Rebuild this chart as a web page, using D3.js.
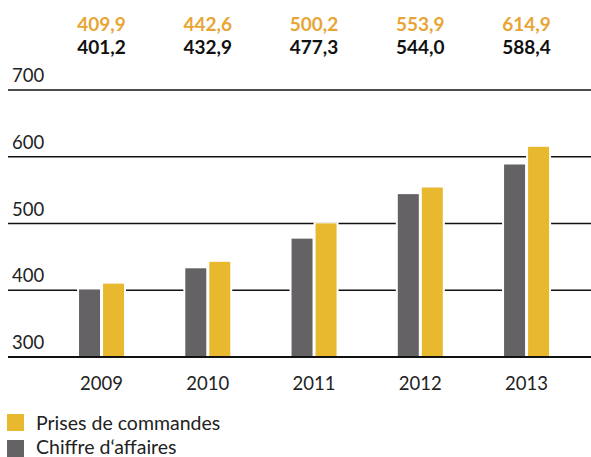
<!DOCTYPE html>
<html><head><meta charset="utf-8">
<script src="https://cdn.jsdelivr.net/npm/d3@7"></script>
<style>body{margin:0;background:#fff;overflow:hidden}svg{display:block}</style>
</head><body>
<script>
const years = ["2009","2010","2011","2012","2013"];
const prises = [409.9, 442.6, 500.2, 553.9, 614.9];
const chiffre = [401.2, 432.9, 477.3, 544.0, 588.4];
const priseLabels = ["409,9","442,6","500,2","553,9","614,9"];
const chiffreLabels = ["401,2","432,9","477,3","544,0","588,4"];
const yTicks = [300, 400, 500, 600, 700];
const legendItems = ["Prises de commandes", "Chiffre d‘affaires"];

const W = 591, H = 457;
const YEL = "#E8B92F", GRY = "#646265", ORG = "#E8A535";
const font = "Lato, 'Open Sans', sans-serif";
const svg = d3.select("body").append("svg").attr("width", W).attr("height", H);

const y = d3.scaleLinear().domain([300, 700]).range([357, 90]);
const x = d3.scaleBand().domain(years).range([48.4, 579.7]);
const barW = 21, gap = 3;

// gridlines
svg.append("g").selectAll("line").data(yTicks.slice(1)).join("line")
  .attr("x1", 8).attr("x2", W).attr("y1", d => y(d)).attr("y2", d => y(d))
  .attr("stroke", "#111").attr("stroke-width", 1.4);

// y labels
svg.append("g").selectAll("text").data(yTicks).join("text")
  .attr("x", 12).attr("y", d => y(d) - 8)
  .attr("font-family", font).attr("font-size", 18.5).attr("fill", "#222")
  .text(d => d);

const groups = svg.append("g").selectAll("g").data(years).join("g")
  .attr("transform", d => `translate(${x(d) + x.bandwidth()/2},0)`);

// white backings (break gridlines)
groups.append("rect")
  .attr("x", -barW - gap/2 - 2).attr("width", barW + 4)
  .attr("y", (d,i) => y(chiffre[i]) - 1).attr("height", (d,i) => y(300) - y(chiffre[i]) + 1)
  .attr("fill", "#fff");
groups.append("rect")
  .attr("x", gap/2 - 2).attr("width", barW + 4)
  .attr("y", (d,i) => y(prises[i]) - 1).attr("height", (d,i) => y(300) - y(prises[i]) + 1)
  .attr("fill", "#fff");

groups.append("rect")
  .attr("x", -barW - gap/2).attr("width", barW)
  .attr("y", (d,i) => y(chiffre[i])).attr("height", (d,i) => y(300) - y(chiffre[i]))
  .attr("fill", GRY);
groups.append("rect")
  .attr("x", gap/2).attr("width", barW)
  .attr("y", (d,i) => y(prises[i])).attr("height", (d,i) => y(300) - y(prises[i]))
  .attr("fill", YEL);

// top value labels
groups.append("text").attr("text-anchor", "middle").attr("y", 31)
  .attr("font-family", font).attr("font-weight", "bold").attr("font-size", 19)
  .attr("fill", ORG).text((d,i) => priseLabels[i]);
groups.append("text").attr("text-anchor", "middle").attr("y", 54)
  .attr("font-family", font).attr("font-weight", "bold").attr("font-size", 19)
  .attr("fill", "#111").text((d,i) => chiffreLabels[i]);

// baseline
svg.append("line").attr("x1", 8).attr("x2", W).attr("y1", y(300)).attr("y2", y(300))
  .attr("stroke", "#111").attr("stroke-width", 2.2);

// x labels
const xAxis = d3.axisBottom(x).tickSize(0).tickPadding(0);
const xg = svg.append("g").attr("transform", `translate(0,${y(300)})`).call(xAxis);
xg.select(".domain").remove();
xg.selectAll("text").attr("font-family", font).attr("font-size", 18.5).attr("fill", "#222")
  .attr("dy", null).attr("y", 33);

// legend
const colors = [YEL, GRY];
const lg = svg.append("g").selectAll("g").data(legendItems).join("g")
  .attr("transform", (d,i) => `translate(7,${414 + i*26})`);
lg.append("rect").attr("width", 17).attr("height", 17).attr("fill", (d,i) => colors[i]);
lg.append("text").attr("x", 29).attr("y", (d,i) => i ? 14 : 16).attr("font-family", font).attr("font-size", 19.5)
  .attr("fill", "#222").text(d => d);
</script>
</body></html>
